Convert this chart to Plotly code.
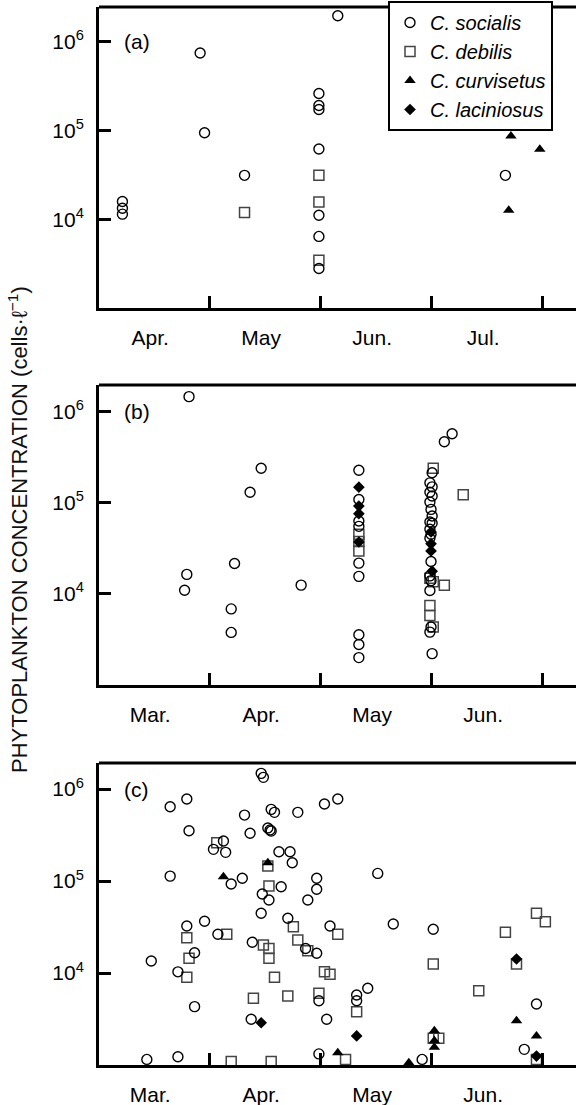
import plotly.graph_objects as go

FONT = "Liberation Sans, Arial, Helvetica, sans-serif"

# ---------------- data ----------------
# month axis value: 4 = 1 April, 5 = 1 May, 6 = 1 June ... ; concentration in cells per litre

# panel (a)
a_soc_month = [4.22, 4.22, 4.22, 4.92, 4.96, 5.32, 6.16, 5.99, 5.99, 5.99, 5.99, 5.99, 5.99, 5.99, 7.67]
a_soc_conc = [15800, 13300, 11400, 746000, 94200, 31200, 1960000, 261000, 191000, 172000,
              61700, 11100, 6400, 2790, 31200]
a_deb_month = [5.32, 5.99, 5.99, 5.99]
a_deb_conc = [11900, 31200, 15600, 3460]
a_cur_month = [7.72, 7.98, 7.70]
a_cur_conc = [86300, 61200, 12600]

# panel (b)
b_soc_month = [3.82, 3.80, 3.78, 4.47, 4.37, 4.23, 4.20, 4.20, 4.83, 6.12, 6.19,
               5.35, 5.35, 5.35, 5.35, 5.35, 5.35, 5.35, 5.35, 5.35,
               6.01, 5.99, 6.01, 5.99, 6.01, 5.99, 6.00, 6.01, 5.99, 6.01,
               5.99, 6.00, 5.99, 6.00, 5.99, 6.00, 5.99, 6.00, 5.99, 6.01]
b_soc_conc = [1470000, 16400, 11000, 240000, 131000, 21600, 6850, 3780, 12500, 470000, 575000,
              228000, 109000, 63200, 55300, 21800, 15600, 3560, 2790, 2000,
              214000, 166000, 150000, 131000, 119000, 102000, 84900, 71800, 61700, 59700,
              51300, 45300, 40900, 22700, 15800, 14000, 10900, 4330, 3810, 2210]
b_deb_month = [5.35, 5.35, 5.35, 6.02, 5.99, 6.02, 5.99, 5.99, 6.02, 6.29, 6.12]
b_deb_conc = [45300, 37700, 29700, 240000, 14900, 13600, 7450, 5790, 4330, 123000, 12500]
b_lac_month = [5.35, 5.35, 5.35, 5.35, 6.00, 6.00, 6.00, 6.01]
b_lac_conc = [149000, 92300, 76200, 37200, 47900, 35500, 29700, 17800]

# panel (c)
c_soc_month = [4.47, 4.49, 3.65, 3.80, 4.32, 3.82, 4.37, 4.13, 4.04, 4.15,
               3.65, 4.20, 4.30, 4.48, 4.47, 3.96, 3.80, 4.08, 4.39, 3.87,
               3.48, 3.72, 3.87, 4.38, 3.44, 3.72, 4.56, 4.59, 4.80, 5.04,
               5.16, 4.53, 4.55, 4.56, 4.63, 4.73, 4.75, 4.65, 4.97, 4.97,
               4.89, 5.52, 4.54, 4.71, 5.09, 5.66, 4.87, 4.97, 4.99, 5.33,
               5.33, 5.43, 5.06, 4.99, 5.92, 6.02, 6.95, 6.84]
c_soc_conc = [1480000, 1340000, 643000, 778000, 521000, 352000, 330000, 272000, 221000, 205000,
              113000, 92700, 107000, 72300, 44600, 36500, 32400, 26400, 21600, 16600,
              13500, 10300, 4310, 3140, 1150, 1230, 601000, 558000, 558000, 687000,
              778000, 377000, 358000, 349000, 208000, 208000, 158000, 86700, 107000, 81300,
              62100, 121000, 62100, 39400, 32400, 34100, 18500, 16400, 5000, 5770,
              5000, 6820, 3140, 1320, 1150, 29900, 4600, 1480]
c_deb_month = [4.07, 3.80, 4.16, 3.82, 3.80, 4.40, 4.20, 4.53, 4.54, 4.76,
               5.16, 4.49, 4.54, 4.54, 4.80, 4.89, 4.59, 5.04, 5.09, 4.71,
               4.99, 5.33, 5.23, 4.56, 6.02, 6.95, 7.03, 6.67, 6.77, 6.43,
               6.02, 6.07, 6.95]
c_deb_conc = [261000, 24200, 26400, 14500, 8970, 5310, 1090, 146000, 88300, 31800,
              26400, 20100, 18500, 14500, 22900, 17500, 8970, 10300, 9680, 5620,
              6010, 3790, 1150, 1090, 12500, 44600, 36100, 27700, 12500, 6430,
              1950, 1950, 1150]
c_cur_month = [4.13, 4.53, 5.16, 5.80, 6.77, 6.95, 6.03, 6.03, 6.03]
c_cur_conc = [111000, 158000, 1360, 1060, 3030, 2070, 2360, 1840, 1560]
c_lac_month = [4.47, 5.33, 6.77, 6.95]
c_lac_conc = [2880, 2070, 14200, 1250]

# axes text
species_names = ["C. socialis", "C. debilis", "C. curvisetus", "C. laciniosus"]
panel_letters = ["(a)", "(b)", "(c)"]
month_labels_a = ["Apr.", "May", "Jun.", "Jul."]
month_label_pos_a = [4.47, 5.47, 6.47, 7.47]
month_bounds_a = [5, 6, 7, 8]
month_labels_bc = ["Mar.", "Apr.", "May", "Jun."]
month_label_pos_bc = [3.47, 4.47, 5.47, 6.47]
month_bounds_bc = [4, 5, 6, 7]
y_tick_vals = [1e4, 1e5, 1e6]
y_tick_text = ["10<sup>4</sup>", "10<sup>5</sup>", "10<sup>6</sup>"]
y_title = "PHYTOPLANKTON CONCENTRATION (cells·ℓ<sup>−1</sup>)"

# ---------------- styles ----------------
STY = {
    "soc": dict(symbol="circle-open", size=10, color="black", line=dict(width=1.4, color="black")),
    "deb": dict(symbol="square-open", size=10, color="#444444", line=dict(width=1.5, color="#444444")),
    "cur": dict(symbol="triangle-up", size=10, color="black", line=dict(width=0)),
    "lac": dict(symbol="diamond", size=9, color="black", line=dict(width=0)),
}
NAME = {"soc": species_names[0], "deb": species_names[1], "cur": species_names[2], "lac": species_names[3]}
RANK = {"soc": 1, "deb": 2, "cur": 3, "lac": 4}

fig = go.Figure()


def add(key, xs, ys, ax, legend):
    fig.add_trace(go.Scatter(
        x=xs, y=ys, mode="markers", marker=STY[key], name="<i>" + NAME[key] + "</i>",
        xaxis="x" + ax, yaxis="y" + ax, showlegend=legend, legendrank=RANK[key],
        cliponaxis=False, hoverinfo="x+y"))


add("deb", a_deb_month, a_deb_conc, "", True)
add("soc", a_soc_month, a_soc_conc, "", True)
add("cur", a_cur_month, a_cur_conc, "", True)

add("deb", b_deb_month, b_deb_conc, "2", False)
add("soc", b_soc_month, b_soc_conc, "2", False)
add("lac", b_lac_month, b_lac_conc, "2", True)

add("deb", c_deb_month, c_deb_conc, "3", False)
add("soc", c_soc_month, c_soc_conc, "3", False)
add("cur", c_cur_month, c_cur_conc, "3", False)
add("lac", c_lac_month, c_lac_conc, "3", False)

W, H = 576, 1105
XDOM = [99 / W, 1.0]


def ydom(top_px, bottom_px):
    return [(H - bottom_px) / H, (H - top_px) / H]


def xaxis(anchor, rng, pos, labels, bounds):
    return dict(domain=XDOM, anchor=anchor, range=rng, showline=True, linewidth=3,
                linecolor="black", ticks="", tickvals=pos, ticktext=labels,
                tickfont=dict(size=21, family=FONT, color="black"),
                showgrid=False, zeroline=False, ticklabelstandoff=9,
                minor=dict(tickvals=bounds, ticks="inside", ticklen=12, tickwidth=3,
                           tickcolor="black", showgrid=False))


def yaxis(anchor, dom, top):
    return dict(domain=dom, anchor=anchor, type="log", range=[3, top], showline=True,
                linewidth=3, linecolor="black", ticks="inside", ticklen=12, tickwidth=3,
                tickcolor="black", tickvals=y_tick_vals, ticktext=y_tick_text,
                tickfont=dict(size=21, family=FONT, color="black"),
                showgrid=False, zeroline=False, ticklabelstandoff=8)


shapes = []
for ax in ["", "2", "3"]:
    shapes.append(dict(type="line", xref="x%s domain" % ax, yref="y%s domain" % ax,
                       x0=0, x1=1.02, y0=1, y1=1, line=dict(width=3, color="black")))

annotations = []
for ax, letter in zip(["", "2", "3"], panel_letters):
    annotations.append(dict(text=letter, xref="paper", yref="y" + ax, x=122 / W, y=6,
                            xanchor="left", yanchor="middle", showarrow=False,
                            font=dict(size=21, family=FONT, color="black")))
annotations.append(dict(text=y_title, xref="paper", yref="paper", x=18 / W, y=(H - 530) / H,
                        textangle=-90, showarrow=False, xanchor="center", yanchor="middle",
                        font=dict(size=22, family=FONT, color="#111111")))

fig.update_layout(
    width=W, height=H,
    margin=dict(l=0, r=0, t=0, b=0, autoexpand=False),
    paper_bgcolor="white", plot_bgcolor="white",
    font=dict(family=FONT, color="black"),
    xaxis=xaxis("y", [4.009, 8.306], month_label_pos_a, month_labels_a, month_bounds_a),
    yaxis=yaxis("x", ydom(7, 308), 6.39),
    xaxis2=xaxis("y2", [3.009, 7.306], month_label_pos_bc, month_labels_bc, month_bounds_bc),
    yaxis2=yaxis("x2", ydom(385, 685), 6.295),
    xaxis3=xaxis("y3", [3.009, 7.306], month_label_pos_bc, month_labels_bc, month_bounds_bc),
    yaxis3=yaxis("x3", ydom(763, 1065), 6.283),
    shapes=shapes,
    annotations=annotations,
    legend=dict(x=388 / W, y=(H - 1) / H, xanchor="left", yanchor="top",
                bordercolor="black", borderwidth=2, bgcolor="white",
                font=dict(size=20, family=FONT, color="black"),
                itemwidth=30, tracegroupgap=0, traceorder="normal",
                entrywidth=220, entrywidthmode="pixels"),
    showlegend=True,
)

fig.write_html("out.html", config={"displayModeBar": False},
               post_script="document.body.style.margin='0px';")
